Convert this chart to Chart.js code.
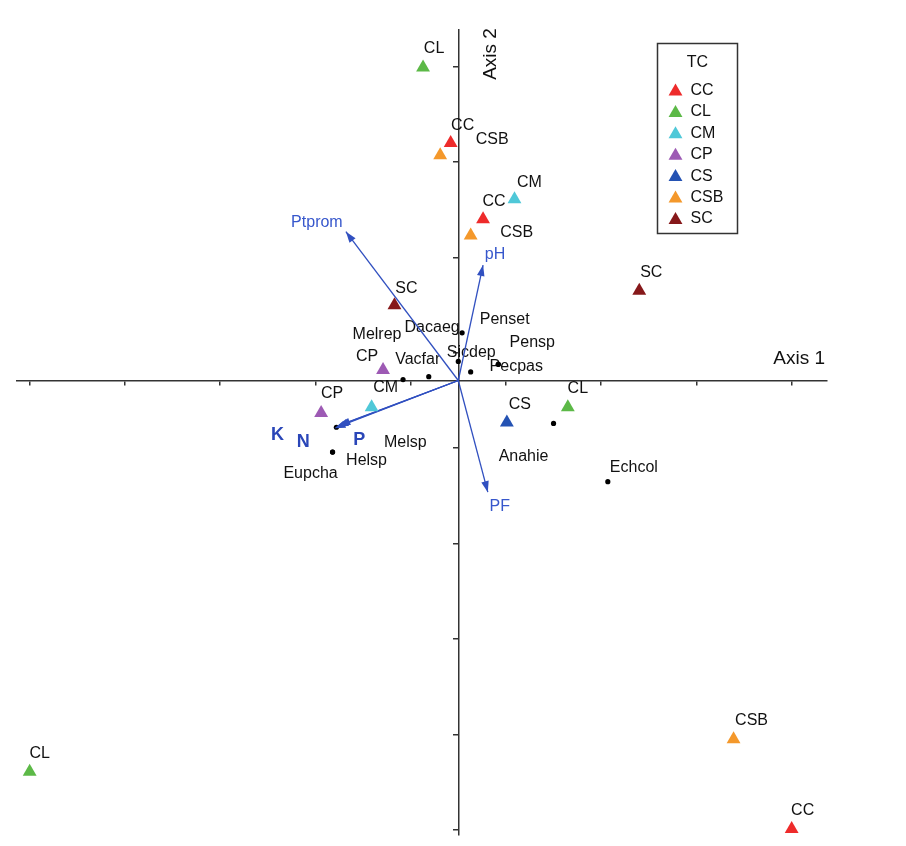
<!DOCTYPE html>
<html><head><meta charset="utf-8">
<script src="https://cdn.jsdelivr.net/npm/chart.js@4.4.1/dist/chart.umd.min.js"></script>
<style>html,body{margin:0;padding:0;background:#fff}canvas{display:block}</style>
</head><body>
<canvas id="c" width="906" height="846"></canvas>
<script>
// ---- data ----
const groups = ['CC','CL','CM','CP','CS','CSB','SC'];
const groupColors = ['#ee2b2b','#5cb947','#4fc8d8','#9d5ab4','#2452b3','#f4982b','#86181a'];
const siteGroup = ['CL','CC','CSB','CM','CC','CSB','SC','SC','CP','CP','CM','CS','CL','CSB','CC','CL'];
const siteX = [-0.37,-0.08,-0.19,0.59,0.26,0.13,1.90,-0.67,-0.79,-1.44,-0.91,0.51,1.15,2.89,3.50,-4.50];
const siteY = [3.28,2.49,2.36,1.90,1.69,1.52,0.94,0.79,0.11,-0.34,-0.28,-0.44,-0.28,-3.76,-4.70,-4.10];
const speciesNames = ['Dacaeg','Sicdep','Penset','Pecpas','Pensp','Vacfar','Melrep','Melsp','Helsp','Eupcha','Anahie','Echcol'];
const speciesX = [0.04,0.00,0.13,0.42,0.42,-0.31,-0.58,-1.28,-1.32,-1.32,1.00,1.57];
const speciesY = [0.50,0.20,0.09,0.17,0.17,0.04,0.01,-0.49,-0.75,-0.75,-0.45,-1.06];
const envNames = ['Ptprom','pH','PF','K','N','P'];
const envX = [-1.18,0.26,0.31,-1.30,-1.27,-1.25];
const envY = [1.56,1.21,-1.17,-0.50,-0.48,-0.47];
const xTicks = [-4.5,-3.5,-2.5,-1.5,-0.5,0.5,1.5,2.5,3.5];
const yTicks = [3.29,2.29,1.29,0.29,-0.71,-1.71,-2.71,-3.71,-4.71];
const axisTitles = ['Axis 1','Axis 2'];
const legendTitle = 'TC';

// ---- label placement (pixel offsets from the mark) ----
const siteLabelOffset = [[11,-19],[12,-17],[52,-16],[15,-17],[11,-18],[46,-3],[12,-18],[12,-17],[-16,-13],[11,-19],[14,-20],[13,-18],[10,-19],[18,-19],[11,-18],[10,-18]];
const speciesLabelOffset = [[-30,-5],[13,-9],[34,-52],[18,2],[34,-22],[-11,-17],[-26,-45],[69,15],[34,9],[-22,22],[-30,33],[26,-14]];
const envLabelOffset = [[-29,-9],[12,-10],[12,14],[-57,7],[-34,16],[20,15]];
const envBold = [false,false,false,true,true,true];

const FONT = '"Liberation Sans", Arial, sans-serif';
const ARROW = '#3150c0';

const datasets = [];
groups.forEach((g, gi) => {
  const pts = [];
  siteGroup.forEach((s, i) => { if (s === g) pts.push({x: siteX[i], y: siteY[i]}); });
  datasets.push({label: g, data: pts, pointStyle: 'triangle', pointRadius: 8, pointHoverRadius: 8,
    backgroundColor: groupColors[gi], borderColor: groupColors[gi], borderWidth: 0, clip: false, order: 1});
});
datasets.push({label: 'species', data: speciesX.map((x, i) => ({x, y: speciesY[i]})), pointStyle: 'circle',
  pointRadius: 2.6, backgroundColor: '#000', borderColor: '#000', borderWidth: 0, clip: false, order: 2});
envNames.forEach((n, i) => {
  datasets.push({label: n, data: [{x: 0, y: 0}, {x: envX[i], y: envY[i]}], showLine: true, pointRadius: 0,
    borderColor: ARROW, borderWidth: 1.3, clip: false, order: 3, isArrow: true});
});

const bgPlugin = {
  id: 'bg',
  beforeDraw(chart) { const c = chart.ctx; c.save(); c.fillStyle = '#fff'; c.fillRect(0, 0, chart.width, chart.height); c.restore(); }
};

const annot = {
  id: 'annot',
  beforeDatasetsDraw(chart) {
    const ctx = chart.ctx, xs = chart.scales.x, ys = chart.scales.y;
    ctx.save();
    ctx.textAlign = 'center'; ctx.textBaseline = 'middle';
    ctx.fillStyle = '#111';
    ctx.font = '16px ' + FONT;
    siteGroup.forEach((g, i) => {
      const px = xs.getPixelForValue(siteX[i]), py = ys.getPixelForValue(siteY[i]);
      ctx.fillText(g, px + siteLabelOffset[i][0], py + siteLabelOffset[i][1]);
    });
    speciesNames.forEach((n, i) => {
      const px = xs.getPixelForValue(speciesX[i]), py = ys.getPixelForValue(speciesY[i]);
      ctx.fillText(n, px + speciesLabelOffset[i][0], py + speciesLabelOffset[i][1]);
    });
    // axis titles
    ctx.font = '19px ' + FONT;
    ctx.textAlign = 'right';
    ctx.fillText(axisTitles[0], xs.getPixelForValue(xs.max) - 2, ys.getPixelForValue(0) - 22);
    ctx.save();
    ctx.translate(xs.getPixelForValue(0) + 32, ys.getPixelForValue(ys.max) + 24);
    ctx.rotate(-Math.PI / 2);
    ctx.textAlign = 'center';
    ctx.fillText(axisTitles[1], 0, 0);
    ctx.restore();
    ctx.restore();
  },
  afterDatasetsDraw(chart) {
    const ctx = chart.ctx, xs = chart.scales.x, ys = chart.scales.y;
    const ox = xs.getPixelForValue(0), oy = ys.getPixelForValue(0);
    ctx.save();
    envNames.forEach((n, i) => {
      const tx = xs.getPixelForValue(envX[i]), ty = ys.getPixelForValue(envY[i]);
      const a = Math.atan2(ty - oy, tx - ox);
      const L = 11, W = 3.8;
      ctx.fillStyle = ARROW;
      ctx.beginPath();
      ctx.moveTo(tx, ty);
      ctx.lineTo(tx - L * Math.cos(a) + W * Math.sin(a), ty - L * Math.sin(a) - W * Math.cos(a));
      ctx.lineTo(tx - L * Math.cos(a) - W * Math.sin(a), ty - L * Math.sin(a) + W * Math.cos(a));
      ctx.closePath();
      ctx.fill();
      ctx.fillStyle = envBold[i] ? '#2a46b8' : '#3757cc';
      ctx.font = (envBold[i] ? 'bold 18px ' : '16px ') + FONT;
      ctx.textAlign = 'center'; ctx.textBaseline = 'middle';
      ctx.fillText(n, tx + envLabelOffset[i][0], ty + envLabelOffset[i][1]);
    });
    ctx.restore();
  },
  afterDraw(chart) {
    const ctx = chart.ctx;
    ctx.save();
    // legend box
    const L = 657.5, T = 43.5, W = 80, H = 190;
    ctx.strokeStyle = '#333'; ctx.lineWidth = 1.5;
    ctx.strokeRect(L, T, W, H);
    ctx.fillStyle = '#111';
    ctx.font = '16px ' + FONT;
    ctx.textAlign = 'center'; ctx.textBaseline = 'middle';
    ctx.fillText(legendTitle, L + W / 2, T + 19);
    ctx.textAlign = 'left';
    groups.forEach((g, i) => {
      const y = T + 47 + i * 21.4;
      ctx.fillStyle = groupColors[i];
      Chart.helpers.drawPoint(ctx, {pointStyle: 'triangle', radius: 8, borderWidth: 0}, L + 18, y + 1);
      ctx.fillStyle = '#111';
      ctx.fillText(g, L + 33, y);
    });
    ctx.restore();
  }
};

new Chart(document.getElementById('c'), {
  type: 'scatter',
  data: {datasets},
  options: {
    responsive: false,
    animation: false,
    layout: {padding: {left: 17, top: 30, right: 79, bottom: 11}},
    plugins: {legend: {display: false}, tooltip: {enabled: false}},
    scales: {
      x: {
        type: 'linear', min: -4.633, max: 3.871, position: {y: 0},
        afterBuildTicks: (axis) => { axis.ticks = xTicks.map(v => ({value: v})); },
        ticks: {display: false},
        grid: {drawOnChartArea: false, drawTicks: true, tickLength: 4, color: '#333', lineWidth: 1.5},
        border: {display: true, color: '#333', width: 1.5}
      },
      y: {
        type: 'linear', min: -4.764, max: 3.674, position: {x: 0},
        afterBuildTicks: (axis) => { axis.ticks = yTicks.map(v => ({value: v})); },
        ticks: {display: false},
        grid: {drawOnChartArea: false, drawTicks: true, tickLength: 5, color: '#333', lineWidth: 1.5},
        border: {display: true, color: '#333', width: 1.5}
      }
    }
  },
  plugins: [bgPlugin, annot]
});
</script>
</body></html>
